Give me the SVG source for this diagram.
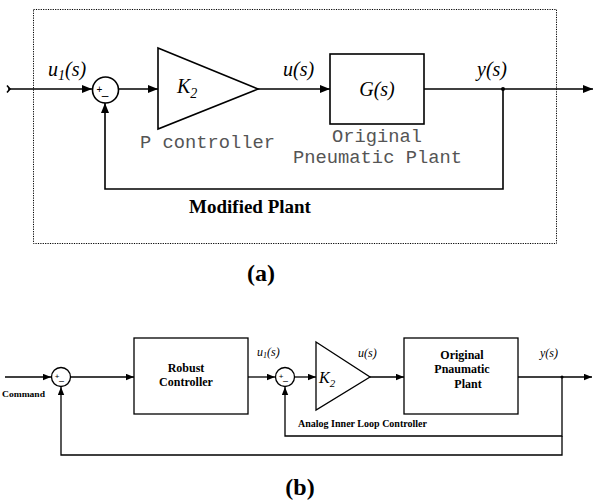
<svg xmlns="http://www.w3.org/2000/svg" width="595" height="503" viewBox="0 0 595 503">
<style>
.ln{fill:none;stroke:#000;stroke-width:1.6}
.ln2{fill:none;stroke:#000;stroke-width:1.3}
.blk{fill:#fff;stroke:#000;stroke-width:1.6}
.dot{fill:none;stroke:#000;stroke-width:1;stroke-dasharray:1.2 1.2}
.it{font-family:"Liberation Serif",serif;font-style:italic;fill:#000}
.mono{font-family:"Liberation Mono",monospace;fill:#555}
.bs{font-family:"Liberation Serif",serif;font-weight:bold;fill:#000}
.sm{font-family:"Liberation Sans",sans-serif;fill:#000}
</style>
<defs>
<marker id="ah" viewBox="0 0 10 8" refX="10" refY="4" markerWidth="10" markerHeight="8" markerUnits="userSpaceOnUse" orient="auto"><path d="M0,0 L10,4 L0,8 z" fill="#000"/></marker>
<marker id="ahs" viewBox="0 0 10 8" refX="10" refY="4" markerWidth="8" markerHeight="7" markerUnits="userSpaceOnUse" orient="auto"><path d="M0,0 L10,4 L0,8 z" fill="#000"/></marker>
</defs>
<rect width="595" height="503" fill="#fff"/>

<!-- (a) -->
<rect id="modified-plant" class="dot" x="33.5" y="9.5" width="523" height="234"/>
<g id="connectors-a">
<path class="ln" d="M8,89 L92,89" marker-end="url(#ah)"/>
<path class="ln" d="M7,85.5 L10,89 L7,92.5"/>
<path class="ln" d="M119,89 L158,89" marker-end="url(#ah)"/>
<path class="ln" d="M258,89 L330,89" marker-end="url(#ah)"/>
<path class="ln" d="M424,89 L593,89" marker-end="url(#ah)"/>
<path class="ln" d="M503,89 L503,189 L105,189 L105,103" marker-end="url(#ah)"/>
<circle cx="503" cy="89" r="2" fill="#000"/>
</g>
<g id="sum-a">
<circle class="blk" cx="105.5" cy="90" r="13"/>
<text class="sm" x="99.5" y="93" font-size="10" text-anchor="middle">+</text>
<text class="sm" x="105" y="100" font-size="12" text-anchor="middle">–</text>
</g>
<g id="p-controller">
<path class="blk" d="M158,48 L258,89 L158,129 z"/>
<text class="it" x="177" y="93" font-size="20">K<tspan font-size="14" dy="5">2</tspan></text>
<text class="mono" x="140" y="148" font-size="18" textLength="135" lengthAdjust="spacingAndGlyphs">P controller</text>
</g>
<g id="plant-a">
<rect class="blk" x="330" y="54" width="94" height="70"/>
<text class="it" x="377" y="96" font-size="20" text-anchor="middle">G(s)</text>
<text class="mono" x="332" y="142" font-size="18" textLength="90" lengthAdjust="spacingAndGlyphs">Original</text>
<text class="mono" x="293" y="163" font-size="18" textLength="169" lengthAdjust="spacingAndGlyphs">Pneumatic Plant</text>
</g>
<text class="it" x="48" y="76" font-size="20">u<tspan font-size="14" dy="4">1</tspan><tspan dy="-4">(s)</tspan></text>
<text class="it" x="283" y="76" font-size="20">u(s)</text>
<text class="it" x="477" y="76" font-size="20">y(s)</text>
<text class="bs" x="250" y="213" font-size="19" text-anchor="middle">Modified Plant</text>
<text class="bs" x="261" y="281" font-size="24" text-anchor="middle">(a)</text>

<!-- (b) -->
<g id="connectors-b">
<path class="ln2" d="M5,377 L51,377" marker-end="url(#ahs)"/>
<path class="ln2" d="M71,377 L134,377" marker-end="url(#ahs)"/>
<path class="ln2" d="M248,377 L275,377" marker-end="url(#ahs)"/>
<path class="ln2" d="M295,377 L316,377" marker-end="url(#ahs)"/>
<path class="ln2" d="M370,377 L404,377" marker-end="url(#ahs)"/>
<path class="ln2" d="M518,377 L592,377" marker-end="url(#ahs)"/>
<path class="ln2" d="M562,377 L562,436 L285,436 L285,387" marker-end="url(#ahs)"/>
<path class="ln2" d="M562,436 L562,455 L61,455 L61,387" marker-end="url(#ahs)"/>
<circle cx="562" cy="377" r="1.5" fill="#000"/>
</g>
<g id="sum-b1">
<circle class="ln2" cx="61" cy="377" r="9.5"/>
<text class="sm" x="57" y="379" font-size="8" text-anchor="middle">+</text>
<text class="sm" x="61.5" y="384" font-size="9" text-anchor="middle">–</text>
</g>
<g id="robust-controller">
<rect class="ln2" x="134" y="338" width="114" height="76"/>
<text class="bs" x="186" y="372" font-size="12" text-anchor="middle">Robust</text>
<text class="bs" x="186" y="386" font-size="12" text-anchor="middle">Controller</text>
</g>
<g id="sum-b2">
<circle class="ln2" cx="285" cy="377" r="9.5"/>
<text class="sm" x="281" y="379" font-size="8" text-anchor="middle">+</text>
<text class="sm" x="285.5" y="384" font-size="9" text-anchor="middle">–</text>
</g>
<g id="k2-b">
<path class="ln2" d="M316,342 L370,377 L316,410 z"/>
<text class="it" x="319" y="383" font-size="16">K<tspan font-size="11" dy="4">2</tspan></text>
</g>
<g id="plant-b">
<rect class="ln2" x="404" y="338" width="114" height="76"/>
<text class="bs" x="462" y="359" font-size="12" text-anchor="middle">Original</text>
<text class="bs" x="462" y="373" font-size="12" text-anchor="middle">Pnaumatic</text>
<text class="bs" x="468" y="388" font-size="12" text-anchor="middle">Plant</text>
</g>
<text class="bs" x="2" y="397" font-size="9" textLength="43" lengthAdjust="spacingAndGlyphs">Command</text>
<text class="it" x="257" y="356" font-size="12">u<tspan font-size="8" dy="2">1</tspan><tspan dy="-2">(s)</tspan></text>
<text class="it" x="358" y="357" font-size="12">u(s)</text>
<text class="it" x="540" y="357" font-size="12">y(s)</text>
<text class="bs" x="298" y="427" font-size="10" textLength="129" lengthAdjust="spacingAndGlyphs">Analog Inner Loop Controller</text>
<text class="bs" x="300" y="495" font-size="24" text-anchor="middle">(b)</text>
</svg>
